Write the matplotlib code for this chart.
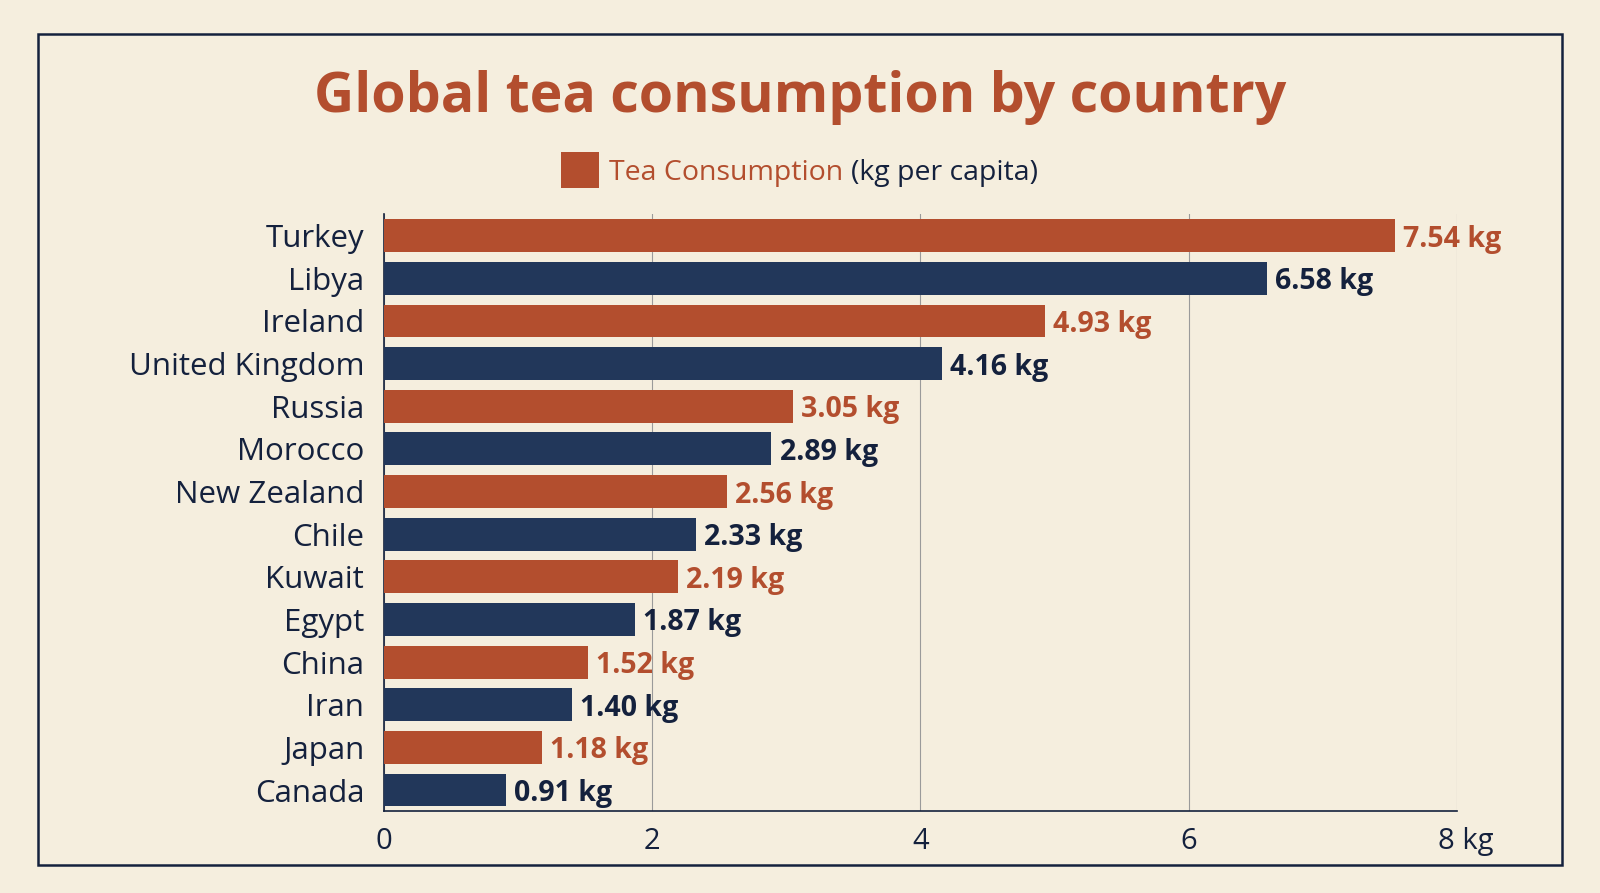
import matplotlib
matplotlib.use("Agg")
import matplotlib.pyplot as plt
from matplotlib.patches import Rectangle
from matplotlib.transforms import ScaledTranslation

countries = ["Turkey", "Libya", "Ireland", "United Kingdom", "Russia", "Morocco",
             "New Zealand", "Chile", "Kuwait", "Egypt", "China", "Iran", "Japan", "Canada"]
values = [7.54, 6.58, 4.93, 4.16, 3.05, 2.89, 2.56, 2.33, 2.19, 1.87, 1.52, 1.40, 1.18, 0.91]
xticks = [0, 2, 4, 6, 8]
xtick_labels = ["0", "2", "4", "6", "8 kg"]

BG = "#F5EEDE"
ORANGE = "#B34E2E"
NAVY = "#22375A"
DARK = "#14213D"

plt.rcParams['font.family'] = ['Open Sans', 'DejaVu Sans']

fig = plt.figure(figsize=(16, 8.93), dpi=100)
fig.patch.set_facecolor(BG)

# coordinates measured on a 1568x875 view of the reference
W, H = 1568, 875
def fx(px): return px / W
def fy(py): return 1 - py / H

# Border
fig.patches.append(Rectangle((fx(37), fy(848)), fx(1531) - fx(37), fy(33) - fy(848),
                             transform=fig.transFigure, fill=False, edgecolor=DARK, linewidth=1.8))

ax = fig.add_axes([fx(376), fy(795), fx(1428) - fx(376), fy(210) - fy(795)])
ax.set_facecolor(BG)

n = len(countries)
ypos = list(range(n))
colors = [ORANGE if i % 2 == 0 else NAVY for i in range(n)]
text_colors = [ORANGE if i % 2 == 0 else DARK for i in range(n)]
ax.barh(ypos, values, height=0.77, color=colors, zorder=3)
ax.set_ylim(n - 0.5, -0.5)
ax.set_xlim(0, 8)
ax.set_yticks(ypos)
ax.set_yticklabels(countries, fontsize=22.5, color=DARK)
ax.set_xticks(xticks)
ax.set_xticklabels(xtick_labels, fontsize=21, color=DARK)
ax.tick_params(axis='both', length=0)
ax.tick_params(axis='y', pad=14)
ax.tick_params(axis='x', pad=11)
last = ax.get_xticklabels()[-1]
last.set_transform(last.get_transform() + ScaledTranslation(9 / 100, 0, fig.dpi_scale_trans))
ax.grid(axis='x', color='#9A9A9A', linewidth=0.8, zorder=0)
for s in ['top', 'right']:
    ax.spines[s].set_visible(False)
for s in ['left', 'bottom']:
    ax.spines[s].set_color(DARK)
    ax.spines[s].set_linewidth(1.2)

for y, v, c in zip(ypos, values, text_colors):
    ax.text(v + 0.06, y, f"{v:.2f} kg", va='center_baseline', ha='left', fontsize=20.5,
            fontweight='bold', color=c, zorder=4)

fig.text(fx(784), fy(96), "Global tea consumption by country", ha='center', va='center',
         fontsize=40, fontweight='bold', color=ORANGE)

# Legend
fig.patches.append(Rectangle((fx(550), fy(184)), fx(587) - fx(550), fy(149) - fy(184),
                             transform=fig.transFigure, facecolor=ORANGE, edgecolor='none'))
t1 = fig.text(fx(597), fy(170), "Tea Consumption", ha='left', va='center', fontsize=20.5, color=ORANGE)
fig.canvas.draw()
bb = t1.get_window_extent()
fig.text((bb.x1 + 8) / fig.bbox.width, fy(170), "(kg per capita)", ha='left', va='center',
         fontsize=20.5, color=DARK)

fig.savefig("out.png", dpi=100, facecolor=BG)
